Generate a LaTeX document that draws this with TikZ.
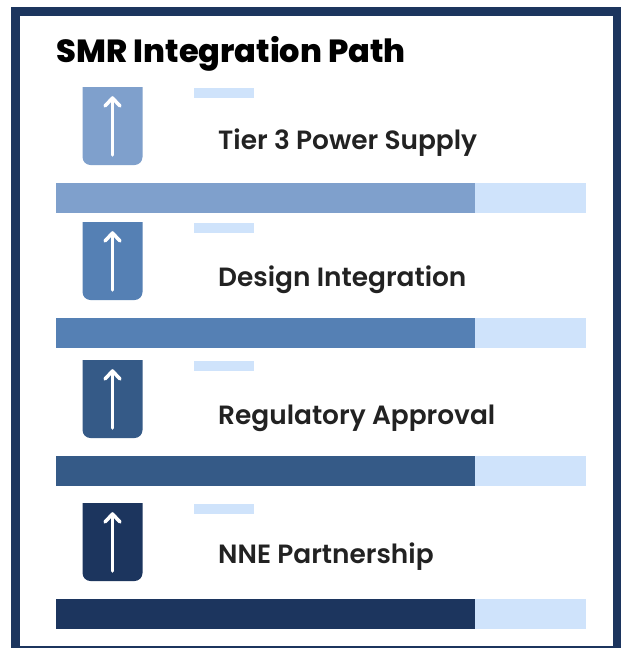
\documentclass[tikz,border=0pt]{standalone}
\usepackage{fontspec}
\setmainfont{Poppins}
\newfontfamily\titlefont{Poppins ExtraBold}
\newfontfamily\labelfont{Poppins SemiBold}
\definecolor{navy}{HTML}{1C355E}
\definecolor{stepA}{HTML}{7FA0CC}
\definecolor{stepB}{HTML}{5580B4}
\definecolor{stepC}{HTML}{355A87}
\definecolor{stepD}{HTML}{1C355E}
\definecolor{track}{HTML}{CFE3FB}
\definecolor{ink}{HTML}{222222}
\tikzset{
  frame/.style={draw=navy, line width=8.5pt},
  titletext/.style={anchor=base west, inner sep=0pt, font=\titlefont\fontsize{32}{36}\selectfont, text=black},
  steplabel/.style={anchor=base west, inner sep=0pt, font=\labelfont\fontsize{26.4}{30}\selectfont, text=ink},
  tick/.style={fill=track},
  iconarrow/.style={draw=white, line width=3.5pt, line cap=round, line join=round},
}
\begin{document}
\begin{tikzpicture}[x=1pt, y=-1pt]
\useasboundingbox (0,0) rectangle (621,648);
% page and border
\fill[white] (0,0) rectangle (621,648);
\draw[frame] (15.25,11.5) rectangle (617.25,650);
% heading
\node[titletext] (title) at (56.5,62) {SMR Integration Path};
% one row per step: icon top, label baseline, bar top, colour, label
\foreach \t/\b/\r/\c/\txt/\n in {
  87/149/183/stepA/{Tier 3 Power Supply}/1,
  222/286/318/stepB/{Design Integration}/2,
  360/424/456/stepC/{Regulatory Approval}/3,
  503/563/599/stepD/{NNE Partnership}/4}{
  % icon tab with rounded lower corners
  \fill[\c] (82.5,\t) [rounded corners=8pt] -- (82.5,\t+78) -- (142.5,\t+78) [sharp corners] -- (142.5,\t) -- cycle;
  \coordinate (tip\n) at (112.5,\t+11);
  \coordinate (tail\n) at (112.5,\t+68);
  \draw[iconarrow] (tail\n) -- (tip\n);
  \draw[iconarrow] (105,\t+19) -- (tip\n) -- (120,\t+19);
  % small marker above the label
  \fill[tick] (194,\t+1) rectangle (254,\t+10.5);
  \node[steplabel] (label\n) at (218,\b) {\txt};
  % progress bar
  \fill[track] (475,\r) rectangle (586,\r+30);
  \fill[\c] (56,\r) rectangle (475,\r+30);
}
\end{tikzpicture}
\end{document}
